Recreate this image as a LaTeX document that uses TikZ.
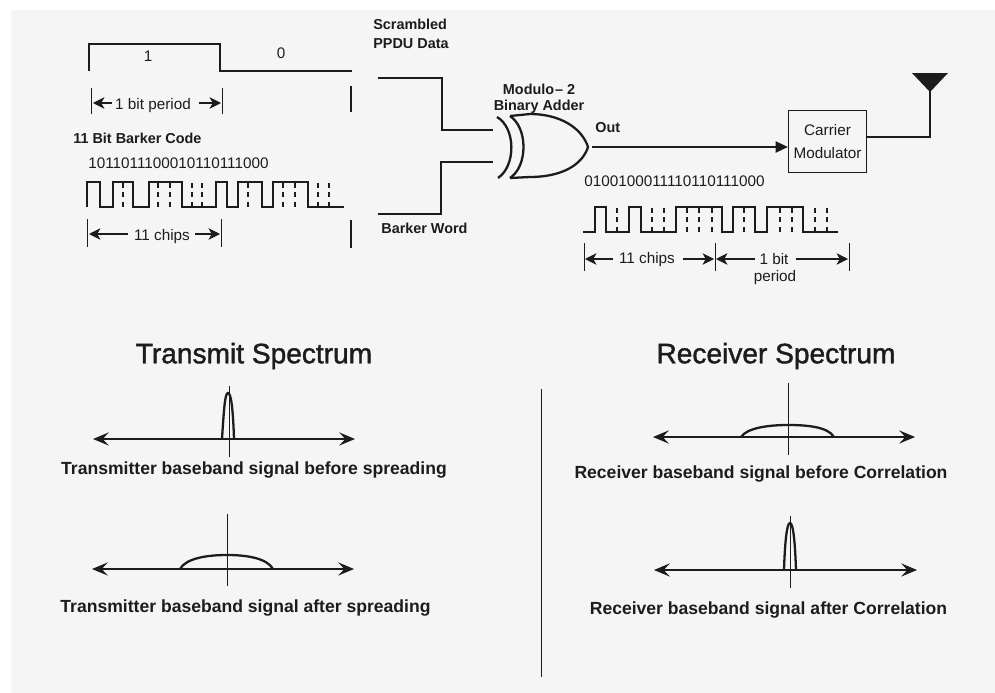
\documentclass[tikz,border=0pt]{standalone}
\usepackage{fontspec}
\setmainfont{Liberation Sans}
\newfontfamily\headfont{Liberation Sans}[FakeBold=1.4]
\usetikzlibrary{arrows.meta}
\definecolor{paper}{HTML}{F5F5F5}
\definecolor{ink}{HTML}{1C1C1C}
\tikzset{
  sig/.style={draw=ink, line width=0.72pt},
  thin sig/.style={draw=ink, line width=0.55pt},
  gate/.style={draw=ink, line width=1.3pt},
  chipdash/.style={draw=ink, line width=0.7pt, dash pattern=on 2.6pt off 2.8pt},
  dim/.style={draw=ink, line width=0.65pt, -{Stealth[length=6.5pt,width=6.5pt,inset=1.8pt]}},
  axis/.style={draw=ink, line width=0.6pt, {Stealth[length=9pt,width=7.5pt,inset=3.5pt]}-{Stealth[length=9pt,width=7.5pt,inset=3.5pt]}},
  lbl/.style={inner sep=0pt, text=ink, font=\fontsize{8.7}{10}\selectfont},
  blbl/.style={inner sep=0pt, text=ink, font=\fontsize{8.2}{10}\selectfont\bfseries},
  capt/.style={inner sep=0pt, text=ink, font=\fontsize{10}{12}\selectfont\bfseries},
  head/.style={inner sep=0pt, text=ink, font=\fontsize{16}{19}\headfont},
}
\begin{document}
\begin{tikzpicture}[x=0.02cm,y=-0.02cm]
\fill[white] (0,0) rectangle (995,693);
\fill[paper] (11,10) rectangle (995,693);
\useasboundingbox (0,0) rectangle (995,693);

% data bits
\draw[sig] (89,71) -- (89,44) -- (220,44) -- (220,71) -- (352,71);
\node[lbl] (bitone) at (148,56) {1};
\node[lbl] (bitzero) at (281,53) {0};
\draw[thin sig] (91,88) -- (91,114);
\draw[thin sig] (222,88) -- (222,114);
\draw[sig] (351,86) -- (351,112);
\node[lbl] (bitperiod) at (153,106) {1 bit period};
\draw[dim] (112,103) -- (93,103);
\draw[dim] (199,103) -- (221,103);

% barker code
\node[blbl, anchor=west] (barkertitle) at (73,138.5) {11 Bit Barker Code};
\node[lbl, anchor=west] (barkerbits) at (88,163) {1011011100010110111000};
\draw[sig] (87,207) -- (87,182) -- (100,182) -- (100,207) -- (113,207) -- (113,182) -- (133,182)
  -- (133,207) -- (149,207) -- (149,182) -- (182,182) -- (182,207) -- (216,207) -- (216,182)
  -- (227,182) -- (227,207) -- (238,207) -- (238,182) -- (262,182) -- (262,207) -- (273,207)
  -- (273,182) -- (308,182) -- (308,207) -- (344,207);
\foreach \xc in {123,158,170,192,202,248,283,295,318,329}
  \draw[chipdash] (\xc,183) -- (\xc,207);
\draw[thin sig] (87,219) -- (87,247);
\draw[thin sig] (221,219) -- (221,247);
\draw[sig] (351,220) -- (351,248);
\node[lbl] (barkerchips) at (162,237) {11 chips};
\draw[dim] (128,234) -- (89,234);
\draw[dim] (195,234) -- (220,234);

% adder
\node[blbl, anchor=west] (scrambled) at (373,24) {Scrambled};
\node[blbl, anchor=west] (ppdu) at (373,44) {PPDU Data};
\node[blbl, anchor=west] (barkerword) at (381,228) {Barker Word};
\node[blbl] (modulo) at (539,89) {Modulo{\kern0.5pt}-- 2};
\node[blbl] (binadder) at (539,107) {Binary Adder};
\coordinate (inA) at (493,130);
\coordinate (inB) at (493,162);
\coordinate (gateout) at (592,147);
\draw[sig] (378,78) -- (442,78) -- (442,130) -- (inA);
\draw[sig] (378,214) -- (441,214) -- (441,162) -- (inB);
\draw[gate] (497,117) .. controls (516,128) and (516,166) .. (498,178);
\draw[gate] (510,116) .. controls (528,128) and (528,166) .. (510,178);
\draw[gate] (510,116) -- (530,114) .. controls (560,114) and (582,128) .. (588,147)
  .. controls (582,166) and (560,177) .. (530,177) -- (510,178);

% output
\node[blbl, anchor=west] (out) at (595,128) {Out};
\node[draw=ink, line width=0.75pt, minimum width=1.56cm, minimum height=1.24cm, inner sep=0pt, align=center, lbl] (carrier) at (827.5,141.5)
  {Carrier\\[3pt]Modulator};
\coordinate (cin) at (carrier.west |- gateout);
\draw[sig, -{Stealth[length=7pt,width=6.5pt,inset=0pt]}] (gateout) -- (cin);
\coordinate (antfoot) at (930,90);
\draw[sig] (carrier.east |- 0,137) -- (930,137) -- (antfoot);
\fill[ink] (912,73) -- (948,73) -- (930,92) -- cycle;

% output chips
\node[lbl, anchor=west] (outbits) at (584,181) {0100100011110110111000};
\draw[sig] (583,232) -- (595,232) -- (595,207) -- (606,207) -- (606,232) -- (629,232) -- (629,207)
  -- (641,207) -- (641,232) -- (676,232) -- (676,207) -- (722,207) -- (722,232) -- (733,232)
  -- (733,207) -- (755,207) -- (755,232) -- (767,232) -- (767,207) -- (803,207) -- (803,232) -- (838,232);
\foreach \xc in {617,652,664,687,699,712,744,780,792,815,827}
  \draw[chipdash] (\xc,208) -- (\xc,232);
\draw[thin sig] (584,243) -- (584,271);
\draw[thin sig] (715,243) -- (715,271);
\draw[thin sig] (849,243) -- (849,271);
\node[lbl] (outchips) at (647,260) {11 chips};
\node[lbl] (onebit) at (774,259) {1 bit};
\node[lbl] (period) at (775,278) {period};
\draw[dim] (613,259) -- (585,259);
\draw[dim] (683,259) -- (714,259);
\draw[dim] (755,259) -- (716,259);
\draw[dim] (796,259) -- (848,259);

% spectra
\node[head] (txhead) at (254,356) {Transmit Spectrum};
\node[head] (rxhead) at (776,356) {Receiver Spectrum};
\draw[thin sig] (541,389) -- (541,677);

\draw[axis] (93,439) -- (355,439);
\draw[thin sig] (229,386) -- (229,457);
\draw[gate] (222,439) .. controls (224,408) and (225,393) .. (228,393) .. controls (231,393) and (233,408) .. (234,439);
\node[capt] (txbefore) at (254,470) {Transmitter baseband signal before spreading};

\draw[axis] (92,569) -- (354,569);
\draw[thin sig] (227,514) -- (227,586);
\draw[gate] (180,569) .. controls (186,558) and (208,555) .. (227,555) .. controls (246,555) and (267,558) .. (273,569);
\node[capt] (txafter) at (245.5,608) {Transmitter baseband signal after spreading};

\draw[axis] (653,437) -- (915,437);
\draw[thin sig] (788,383) -- (788,455);
\draw[gate] (741,437) .. controls (747,428) and (768,425) .. (788,425) .. controls (808,425) and (828,427) .. (834,437);
\node[capt] (rxbefore) at (761,474) {Receiver baseband signal before Correlation};

\draw[axis] (654,570) -- (917,570);
\draw[thin sig] (790,516) -- (790,588);
\draw[gate] (784,570) .. controls (785,540) and (787,523) .. (790,523) .. controls (793,523) and (795,540) .. (796,570);
\node[capt] (rxafter) at (768.5,610) {Receiver baseband signal after Correlation};
\end{tikzpicture}
\end{document}
